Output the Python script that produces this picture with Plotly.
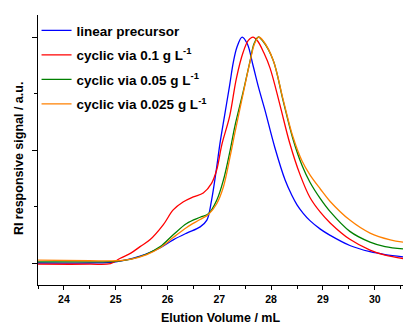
import plotly.graph_objects as go

# Elution volume (mL) / RI signal (a.u., tick spacing = 1)
blue_x = [23.5, 24.5, 25.0, 25.47, 25.72, 25.86, 26.11, 26.37, 26.63, 26.76, 26.85, 26.95, 27.01, 27.1, 27.2,
          27.27, 27.34, 27.44, 27.54, 27.65, 27.76, 27.88, 28.07, 28.27, 28.4, 28.5, 28.62, 28.75, 28.95, 29.14,
          29.52, 29.91, 30.2, 30.55]
blue_y = [0.0, 0.0, 0.02, 0.12, 0.21, 0.27, 0.41, 0.53, 0.64, 0.76, 1.11, 1.70, 2.1, 2.6, 3.15,
          3.55, 3.82, 4.0, 3.88, 3.5, 3.1, 2.71, 2.05, 1.47, 1.2, 1.03, 0.88, 0.75, 0.6, 0.49,
          0.31, 0.2, 0.15, 0.11]

red_x = [23.5, 24.5, 24.9, 25.08, 25.3, 25.47, 25.66, 25.92, 26.11, 26.3, 26.5, 26.69, 26.85, 26.95, 27.05,
         27.2, 27.33, 27.46, 27.56, 27.65, 27.74, 27.86, 27.98, 28.17, 28.36, 28.56, 28.75, 28.95, 29.14, 29.52,
         29.91, 30.2, 30.55]
red_y = [-0.02, -0.02, -0.01, 0.08, 0.18, 0.29, 0.41, 0.68, 0.94, 1.08, 1.17, 1.24, 1.41, 1.65, 2.1,
         2.6, 3.27, 3.73, 3.94, 4.0, 3.93, 3.72, 3.45, 2.8, 2.12, 1.56, 1.16, 0.9, 0.71, 0.42,
         0.23, 0.14, 0.08]

green_x = [23.5, 24.5, 25.0, 25.3, 25.6, 25.86, 26.11, 26.37, 26.63, 26.79, 26.95, 27.08, 27.21, 27.3, 27.46,
           27.59, 27.67, 27.75, 27.84, 28.04, 28.23, 28.42, 28.6, 28.75, 28.95, 29.14, 29.52, 29.91,
           30.2, 30.55]
green_y = [0.02, 0.02, 0.03, 0.07, 0.16, 0.29, 0.5, 0.70, 0.81, 0.87, 1.11, 1.47, 2.0, 2.42, 3.03,
           3.56, 3.88, 4.0, 3.93, 3.59, 2.88, 2.2, 1.72, 1.43, 1.14, 0.91, 0.56, 0.37,
           0.29, 0.25]

orange_x = [23.5, 24.5, 25.0, 25.3, 25.6, 25.86, 26.11, 26.37, 26.63, 26.79, 26.95, 27.08, 27.21, 27.3, 27.46,
            27.59, 27.68, 27.76, 27.85, 28.04, 28.23, 28.42, 28.6, 28.75, 28.95, 29.14, 29.52, 29.91,
            30.3, 30.55]
orange_y = [0.05, 0.04, 0.04, 0.07, 0.15, 0.27, 0.45, 0.63, 0.77, 0.86, 1.05, 1.35, 1.89, 2.3, 3.0,
            3.55, 3.88, 4.0, 3.93, 3.59, 2.9, 2.24, 1.8, 1.56, 1.31, 1.09, 0.76, 0.53,
            0.41, 0.37]

series = [
    ("linear precursor", blue_x, blue_y, "#0000FF"),
    ("cyclic via 0.1 g L<sup>-1</sup>", red_x, red_y, "#FF0000"),
    ("cyclic via 0.05 g L<sup>-1</sup>", green_x, green_y, "#008000"),
    ("cyclic via 0.025 g L<sup>-1</sup>", orange_x, orange_y, "#FF8000"),
]

x_ticks = [24, 25, 26, 27, 28, 29, 30]

fig = go.Figure()
for i, (name, xs, ys, col) in enumerate(series):
    fig.add_trace(go.Scatter(x=xs, y=ys, mode="lines", name=name, legendgroup=f"g{i}",
                             line=dict(color=col, width=1.3, shape="spline", smoothing=1.0)))

font = "Liberation Sans, Arial, sans-serif"
fig.update_layout(
    width=403, height=325,
    margin=dict(l=38, r=0, t=15, b=40),
    plot_bgcolor="white", paper_bgcolor="white",
    showlegend=True,
    legend=dict(x=-0.004, y=1.0, xanchor="left", yanchor="top", bgcolor="rgba(0,0,0,0)",
                font=dict(family=font, size=13.5, color="black", weight="bold"),
                tracegroupgap=4, traceorder="grouped"),
    xaxis=dict(range=[23.5, 30.546], tickvals=x_ticks, ticktext=[str(v) for v in x_ticks],
               ticks="outside", ticklen=4, tickwidth=1.2, tickcolor="black",
               minor=dict(dtick=0.5, tick0=23.5, ticks="outside", ticklen=2.5, tickwidth=1.2, tickcolor="black"),
               showline=True, linecolor="black", linewidth=1.3, showgrid=False, zeroline=False,
               tickfont=dict(family=font, size=10.5, color="black", weight="bold"),
               title=dict(text="Elution Volume / mL", font=dict(family=font, size=12.5, color="black", weight="bold"),
                          standoff=12)),
    yaxis=dict(range=[-0.389, 4.39], tickvals=[0, 2, 4], showticklabels=False,
               ticks="outside", ticklen=5, tickwidth=1.2, tickcolor="black",
               minor=dict(tickvals=[1, 3], ticks="outside", ticklen=3, tickwidth=1.2, tickcolor="black"),
               showline=True, linecolor="black", linewidth=1.3, showgrid=False, zeroline=False),
    annotations=[dict(text="RI responsive signal / a.u.", xref="paper", yref="paper",
                      x=-0.052, y=0.47, xanchor="center", yanchor="middle", textangle=-90, showarrow=False,
                      font=dict(family=font, size=12.5, color="black", weight="bold"))],
)

fig.write_html("out.html", config={"displayModeBar": False},
               post_script="document.body.style.margin='0';document.body.style.overflow='hidden';")
